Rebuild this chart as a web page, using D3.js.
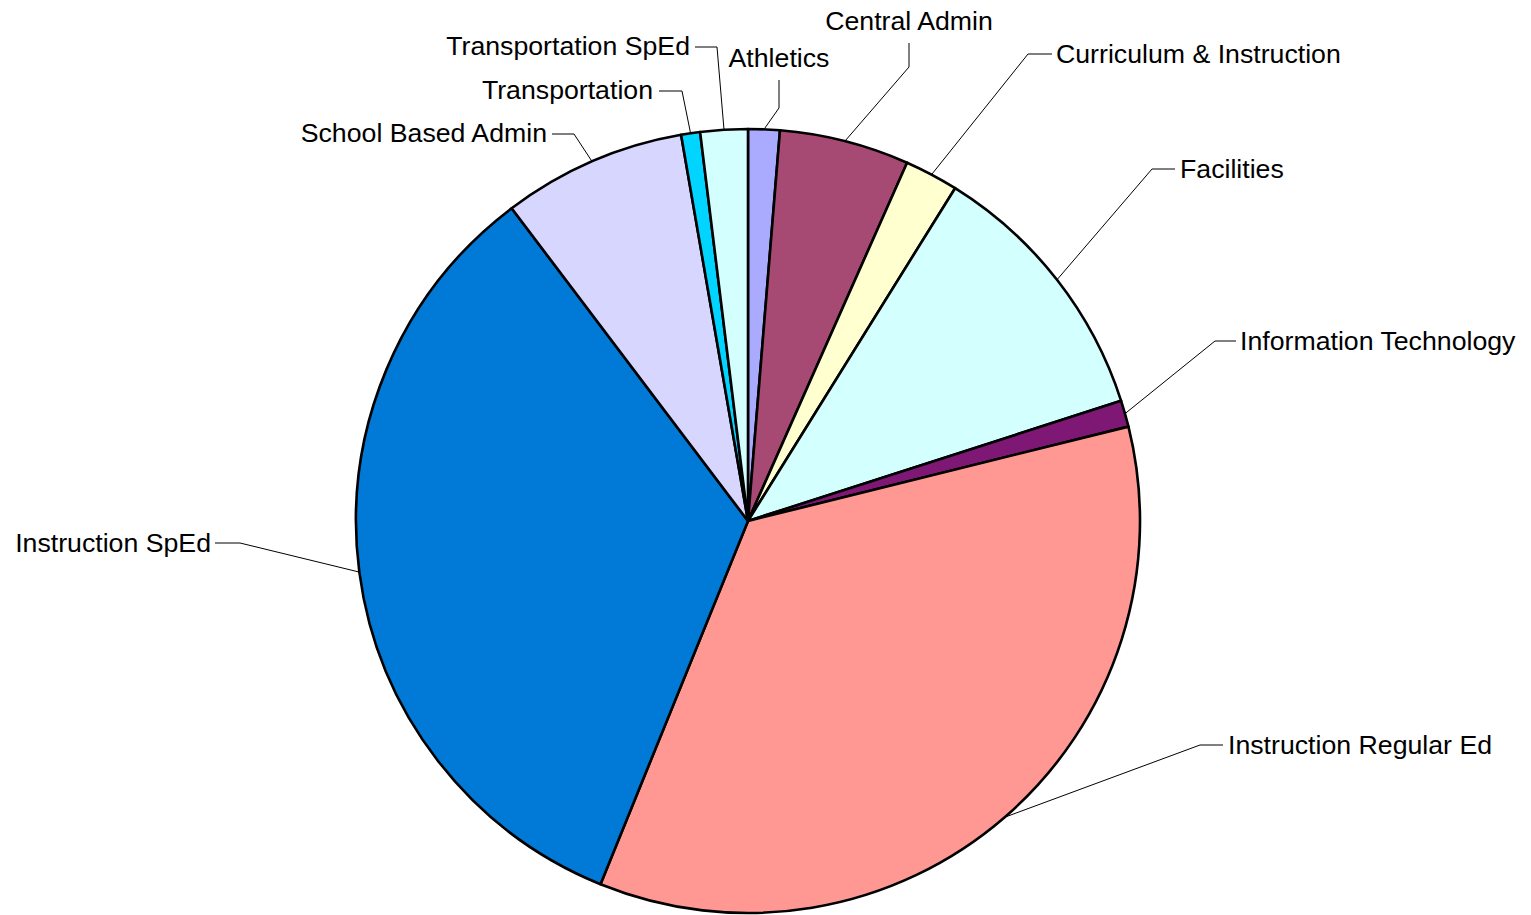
<!DOCTYPE html>
<html>
<head>
<meta charset="utf-8">
<script src="https://cdn.jsdelivr.net/npm/d3@7/dist/d3.min.js"></script>
<style>
  html, body { margin: 0; padding: 0; background: #fff; }
  svg { display: block; }
  text { font-family: "Liberation Sans", Arial, sans-serif; font-size: 26.7px; fill: #000; }
</style>
</head>
<body>
<svg id="chart" width="1531" height="915"></svg>
<script>
// ---- Data (percent share, clockwise from 12 o'clock) ----
const categories = [
  "Athletics", "Central Admin", "Curriculum & Instruction", "Facilities",
  "Information Technology", "Instruction Regular Ed", "Instruction SpEd",
  "School Based Admin", "Transportation", "Transportation SpEd"
];
const values = [1.30, 5.35, 2.21, 11.18, 1.09, 35.01, 33.56, 7.57, 0.78, 1.95];
const colors = [
  "#aaaaff", "#a64a74", "#ffffd0", "#d4ffff", "#7f1874",
  "#ff9892", "#007ad6", "#d6d6ff", "#00d4ff", "#d4ffff"
];

// ---- Label layout (elbow point, label end point, text anchor) ----
const labelLayout = [
  { elbow: [779, 108], end: [779, 80],  tx: 779,  ty: 67,  anchor: "middle" },
  { elbow: [909, 67],  end: [909, 43],  tx: 909,  ty: 29.5, anchor: "middle" },
  { elbow: [1028, 54], end: [1052, 54], tx: 1056, ty: 63,  anchor: "start" },
  { elbow: [1152, 169],end: [1175, 169],tx: 1180, ty: 178, anchor: "start" },
  { elbow: [1215, 341],end: [1236, 341],tx: 1240, ty: 350, anchor: "start" },
  { elbow: [1200, 745],end: [1223, 745],tx: 1228, ty: 754, anchor: "start" },
  { elbow: [240, 543], end: [215, 543], tx: 211,  ty: 552, anchor: "end" },
  { elbow: [574, 134], end: [552, 134], tx: 547,  ty: 142, anchor: "end" },
  { elbow: [682, 91],  end: [659, 91],  tx: 653,  ty: 99,  anchor: "end" },
  { elbow: [717, 47],  end: [695, 47],  tx: 690,  ty: 55,  anchor: "end" }
];

const cx = 748, cy = 521, R = 392;
const svg = d3.select("#chart");
const g = svg.append("g").attr("transform", `translate(${cx},${cy})`);

const pie = d3.pie().sort(null).value(d => d.v);
const data = categories.map((c, i) => ({ name: c, v: values[i], color: colors[i] }));
const arcs = pie(data);
const arc = d3.arc().innerRadius(0).outerRadius(R);
const edgeArc = d3.arc().innerRadius(R).outerRadius(R);

g.selectAll("path.slice")
  .data(arcs)
  .join("path")
  .attr("class", "slice")
  .attr("d", arc)
  .attr("fill", d => d.data.color)
  .attr("stroke", "#000")
  .attr("stroke-width", 2.6)
  .attr("stroke-linejoin", "round");

// Leader lines
const line = d3.line();
const labels = svg.append("g");
arcs.forEach((a, i) => {
  const L = labelLayout[i];
  const p = edgeArc.centroid(a);
  const start = [p[0] + cx, p[1] + cy];
  labels.append("path")
    .attr("d", line([start, L.elbow, L.end]))
    .attr("fill", "none")
    .attr("stroke", "#000")
    .attr("stroke-width", 1);
  labels.append("text")
    .attr("x", L.tx)
    .attr("y", L.ty)
    .attr("text-anchor", L.anchor)
    .text(a.data.name);
});
</script>
</body>
</html>
